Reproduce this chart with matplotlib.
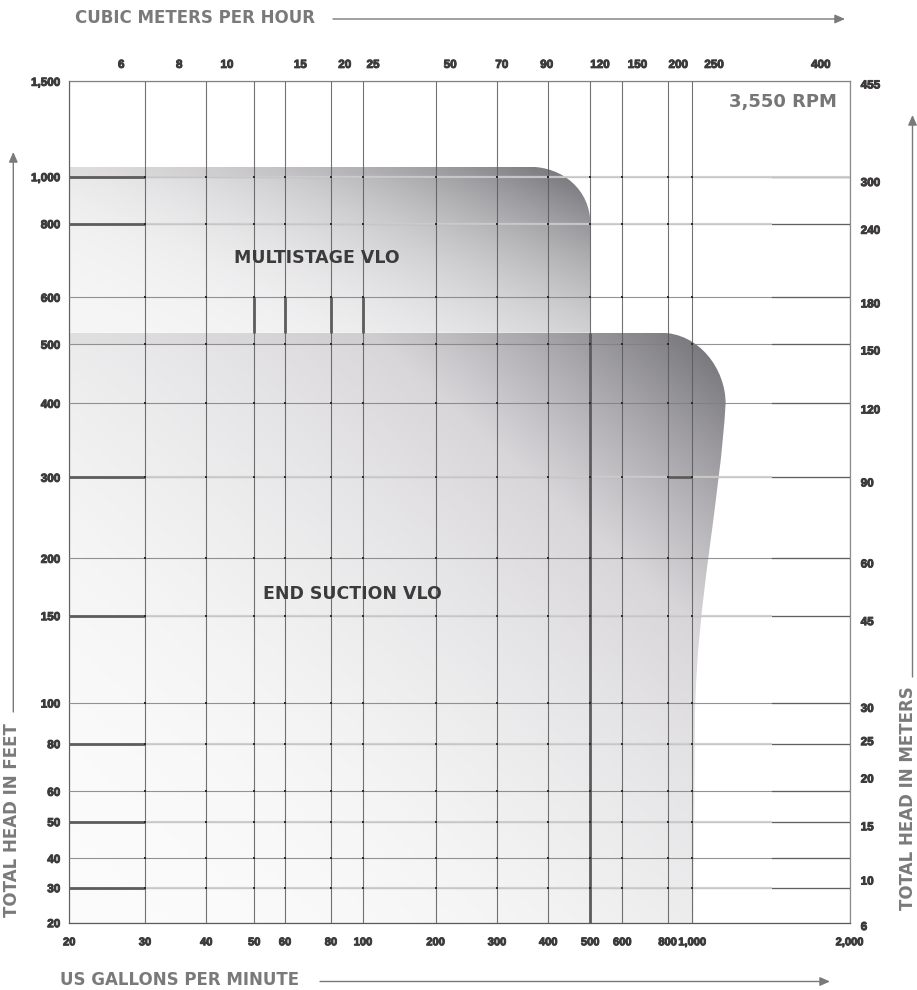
import numpy as np
import matplotlib
matplotlib.use("Agg")
from matplotlib import pyplot as plt
from matplotlib import patheffects as pe
from matplotlib.path import Path
from matplotlib.patches import PathPatch, Rectangle, FancyArrowPatch
from matplotlib.colors import LinearSegmentedColormap
from matplotlib import transforms

plt.rcParams['font.family'] = ['DejaVu Sans']

# bottom axis: US gallons per minute
gpm_ticks = [20, 30, 40, 50, 60, 80, 100, 200, 300, 400, 500, 600, 800, 1000, 2000]
gpm_labels = ['20', '30', '40', '50', '60', '80', '100', '200', '300', '400',
              '500', '600', '800', '1,000', '2,000']
# top axis: cubic meters per hour
m3h_ticks = [6, 8, 10, 15, 20, 25, 50, 70, 90, 120, 150, 200, 250, 400]
# left axis: total head in feet
ft_ticks = [20, 30, 40, 50, 60, 80, 100, 150, 200, 300, 400, 500, 600, 800, 1000, 1500]
ft_labels = ['20', '30', '40', '50', '60', '80', '100', '150', '200', '300',
             '400', '500', '600', '800', '1,000', '1,500']
# right axis: total head in meters
m_ticks = [6, 10, 15, 20, 25, 30, 45, 60, 90, 120, 150, 180, 240, 300, 455]

GPM_PER_M3H = 4.403
FT_PER_M = 3.2808

# the printed chart spaces its gridlines by hand, not on a true log grid
x_spacing = [0, 75.7, 137, 185, 215.7, 261.7, 293.7, 366.4, 427.7, 479, 521, 553, 598.4, 623, 780.4]
y_spacing = [0, 35, 64.4, 101, 131.4, 179, 219.7, 307, 364.4, 445.4, 519.4, 578.4, 625.4, 699, 746, 841.4]

# coverage envelopes, (gpm, ft) with bezier corners
M, L, C, Z = Path.MOVETO, Path.LINETO, Path.CURVE4, Path.CLOSEPOLY
multi_gpm = [20, 20, 360, 432, 500, 500, 500, 20]
multi_ft = [523, 1043, 1043, 1043, 939, 800, 523, 523]
multi_codes = [M, L, L, C, C, C, L, Z]
end_gpm = [20, 20, 762, 1034, 1158, 1158, 1130, 1021, 1012, 1005, 20]
end_ft = [20, 523, 523, 523, 454, 400, 267, 162, 94, 20, 20]
end_codes = [M, L, L, C, C, C, C, C, C, L, Z]

# rules printed heavier than the rest of the grid
heavy_ft = [1000, 800, 300, 150, 80, 50, 30]
GRID_SPLIT_GPM = 1420


def make_scale(ticks, spacing):
    lt = np.log10(np.asarray(ticks, float))
    sp = np.asarray(spacing, float)
    lo = (sp[1] - sp[0]) / (lt[1] - lt[0])
    hi = (sp[-1] - sp[-2]) / (lt[-1] - lt[-2])

    def fwd(v):
        l = np.log10(np.maximum(np.asarray(v, float), 1e-6))
        out = np.interp(l, lt, sp)
        out = np.where(l < lt[0], sp[0] + (l - lt[0]) * lo, out)
        out = np.where(l > lt[-1], sp[-1] + (l - lt[-1]) * hi, out)
        return out

    def inv(p):
        p = np.asarray(p, float)
        l = np.interp(p, sp, lt)
        l = np.where(p < sp[0], lt[0] + (p - sp[0]) / lo, l)
        l = np.where(p > sp[-1], lt[-1] + (p - sp[-1]) / hi, l)
        return 10 ** l
    return fwd, inv


W, H = 917, 990
fig = plt.figure(figsize=(W / 100, H / 100), dpi=100)
ax = fig.add_axes([69.3 / W, 1 - 922.7 / H, 780.4 / W, 841.4 / H])

xf, xi = make_scale(gpm_ticks, x_spacing)
yf, yi = make_scale(ft_ticks, y_spacing)
ax.set_xscale('function', functions=(xf, xi))
ax.set_yscale('function', functions=(yf, yi))
ax.set_xlim(20, 2000)
ax.set_ylim(20, 1500)
ax.autoscale(False)

ink = '#3d3a3b'
soft = '#7a7a7a'
tick_font = dict(family=['Liberation Sans', 'DejaVu Sans'], weight='bold', size=8.4)
thick = [pe.withStroke(linewidth=0.7, foreground=ink)]


def style_ticks(labels, size=tick_font['size']):
    for lab in labels:
        lab.set_fontfamily(tick_font['family'])
        lab.set_fontweight(tick_font['weight'])
        lab.set_fontsize(size)
        lab.set_color(ink)
        lab.set_path_effects(thick)


ax.set_xticks(gpm_ticks, gpm_labels)
ax.set_yticks(ft_ticks, ft_labels)
ax.tick_params(axis='x', length=0, pad=10.5)
ax.tick_params(axis='y', length=0, pad=6.5)
style_ticks(ax.get_xticklabels(), size=8.0)
style_ticks(ax.get_yticklabels())
ax.grid(True, axis='x', color='#5a5a5a', lw=0.8, alpha=0.85, zorder=2.5)
ax.grid(True, axis='y', color='#808080', lw=0.8, alpha=0.85, zorder=2.5)
ax.set_axisbelow(False)
for s in ax.spines.values():
    s.set_color('#8c8c8c')
    s.set_linewidth(0.9)
ax.spines['bottom'].set_color('#5a5a5a')


def shade(xs, ys, codes, colors, power, wu, band_ft):
    path = Path(np.column_stack([xs, ys]), codes)
    patch = PathPatch(path, facecolor='none', edgecolor='none', transform=ax.transData)
    ax.add_patch(patch)
    va = (ax.transData + ax.transAxes.inverted()).transform(path.vertices)
    x0, y0 = va.min(0)
    x1, y1 = va.max(0)
    u, v = np.meshgrid(np.linspace(0, 1, 400), np.linspace(0, 1, 400))
    t = (wu * u + (1 - wu) * v) ** power
    cmap = LinearSegmentedColormap.from_list('env', colors)
    im = ax.imshow(t, cmap=cmap, vmin=0, vmax=1, origin='lower', aspect='auto',
                   extent=(x0, x1, y0, y1), transform=ax.transAxes,
                   interpolation='bilinear', zorder=1)
    im.set_clip_path(patch)
    band = Rectangle((20, band_ft), 2000 - 20, max(ys) - band_ft,
                     facecolor='#857f80', alpha=0.1, lw=0, zorder=1.2)
    ax.add_patch(band)
    band.set_clip_path(patch)


shade(end_gpm, end_ft, end_codes, ['#fbfbfb', '#d8d6d9', '#6c6b70'], 2.2, 0.5, 500)
shade(multi_gpm, multi_ft, multi_codes, ['#f6f5f6', '#6a696e'], 2.6, 0.6, 1000)

# grid quirks of the printed sheet
for f in ft_ticks[1:-1]:
    ax.plot([GRID_SPLIT_GPM, 2000], [f, f], color='#606060', lw=0.9, zorder=2.6)
for f in heavy_ft:
    end = 2000 if f == 1000 else GRID_SPLIT_GPM
    ax.plot([30, end], [f, f], color='#cdcdcd', lw=1.6, alpha=0.9,
            solid_capstyle='butt', zorder=2.7)
heavy = dict(color='#5c5c5c', lw=2.0, solid_capstyle='butt', zorder=3)
for f in heavy_ft:
    ax.plot([20, 30], [f, f], **heavy)
ax.plot([500, 500], [20, 523], **heavy)
ax.plot([800, 1000], [300, 300], **heavy)
for g in [50, 60, 80, 100]:
    ax.plot([g, g], [523, 600], **heavy)

gx, gy = np.meshgrid(gpm_ticks[1:-1], ft_ticks[1:-1])
ax.scatter(gx.ravel(), gy.ravel(), marker='s', s=2.5, color='#2b2b2b', lw=0, zorder=4)

ax.text(73, 700, 'MULTISTAGE VLO', ha='center', va='center', fontsize=12.5,
        fontweight='bold', color=ink, zorder=5)
ax.text(93, 167, 'END SUCTION VLO', ha='center', va='center', fontsize=12.5,
        fontweight='bold', color=ink, zorder=5)
ax.text(0.984, 0.975, '3,550 RPM', transform=ax.transAxes, ha='right', va='center',
        fontsize=13, fontweight='bold', color='#777577', zorder=5)

# top axis in m3/h
top = ax.twiny()
top.set_xscale('function', functions=(xf, xi))
top.set_xlim(20, 2000)
top.set_xticks([m * GPM_PER_M3H for m in m3h_ticks], [str(m) for m in m3h_ticks])
top.tick_params(length=0, pad=7.5)
style_ticks(top.get_xticklabels())
for s in top.spines.values():
    s.set_visible(False)

# right axis in meters
rt = transforms.offset_copy(ax.get_yaxis_transform(), fig, x=11, y=-3, units='dots')
for m in m_ticks:
    ax.text(1.0, m * FT_PER_M, str(m), transform=rt, ha='left', va='center',
            fontfamily=tick_font['family'], fontweight=tick_font['weight'],
            fontsize=tick_font['size'], color=ink, clip_on=False, path_effects=thick)


def arrow(x0, y0, x1, y1):
    fig.add_artist(FancyArrowPatch((x0 / W, 1 - y0 / H), (x1 / W, 1 - y1 / H),
                                   transform=fig.transFigure, color=soft, lw=1.0,
                                   arrowstyle='-|>,head_length=0.5,head_width=0.22',
                                   mutation_scale=12, shrinkA=0, shrinkB=0))


fig.text(75 / W, 1 - 18 / H, 'CUBIC METERS PER HOUR', ha='left', va='center',
         fontsize=12, fontweight='bold', color=soft)
arrow(333, 19, 845, 19)
fig.text(60 / W, 1 - 980 / H, 'US GALLONS PER MINUTE', ha='left', va='center',
         fontsize=12, fontweight='bold', color=soft)
arrow(320, 981.5, 830, 981.5)
fig.text(12 / W, 1 - 917 / H, 'TOTAL HEAD IN FEET', ha='center', va='bottom',
         rotation=90, fontsize=12, fontweight='bold', color=soft)
arrow(13.3, 712, 13.3, 152)
fig.text(908 / W, 1 - 910 / H, 'TOTAL HEAD IN METERS', ha='center', va='bottom',
         rotation=90, fontsize=12, fontweight='bold', color=soft)
arrow(912.5, 677, 912.5, 115)

fig.savefig('out.png', dpi=100)
